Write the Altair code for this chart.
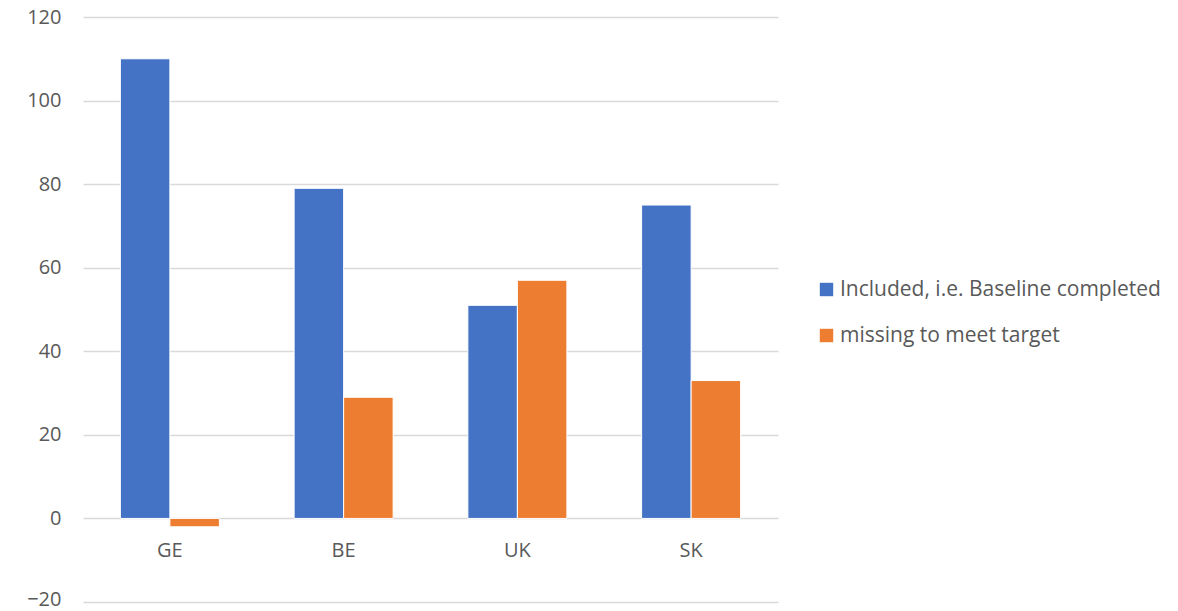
import altair as alt
import pandas as pd

countries = ["GE", "BE", "UK", "SK"]
series = ["Included, i.e. Baseline completed", "missing to meet target"]
included = [110, 79, 51, 75]
missing = [-2, 29, 57, 33]
y_ticks = [-20, 0, 20, 40, 60, 80, 100, 120]
colors = ["#4472C4", "#ED7D31"]

rows = []
for c, a, b in zip(countries, included, missing):
    rows.append({"country": c, "series": series[0], "value": a})
    rows.append({"country": c, "series": series[1], "value": b})
df = pd.DataFrame(rows)

W, H = 695, 585
FONT = "Open Sans"
TXT = "#595959"
FS = 20
LFS = 21

chart = (
    alt.Chart(df)
    .mark_bar(stroke="white", strokeWidth=1)
    .encode(
        x=alt.X(
            "country:N",
            sort=countries,
            scale=alt.Scale(paddingInner=0, paddingOuter=0),
            axis=alt.Axis(
                title=None,
                labelAngle=0,
                domain=False,
                ticks=False,
                grid=False,
                labelPadding=22,
                offset=-H * 20 / 140,
                labelFontSize=FS,
                labelColor=TXT,
                labelFont=FONT,
            ),
        ),
        xOffset=alt.XOffset(
            "series:N",
            sort=series,
            scale=alt.Scale(paddingInner=0, paddingOuter=0.755),
        ),
        y=alt.Y(
            "value:Q",
            scale=alt.Scale(domain=[-20, 120], nice=False, zero=False),
            axis=alt.Axis(
                title=None,
                values=y_ticks,
                domain=False,
                ticks=False,
                labelPadding=22,
                labelFontSize=FS,
                labelColor=TXT,
                labelFont=FONT,
                # keep the lowest label inside the canvas
                labelBaseline=alt.condition(
                    "datum.value == -20", alt.value("bottom"), alt.value("middle")
                ),
                labelOffset=alt.condition(
                    "datum.value == -20", alt.value(7), alt.value(0)
                ),
                gridColor="#D9D9D9",
                gridWidth=1.5,
            ),
        ),
        color=alt.Color(
            "series:N",
            sort=series,
            scale=alt.Scale(domain=series, range=colors),
            legend=alt.Legend(
                title=None,
                orient="none",
                legendX=W + 38,
                legendY=262,
                symbolType="square",
                symbolSize=180,
                symbolStrokeWidth=0,
                labelOffset=3,
                rowPadding=24,
                labelFontSize=LFS,
                labelColor=TXT,
                labelFont=FONT,
                labelLimit=400,
            ),
        ),
    )
    .properties(
        width=W,
        height=H,
        background="white",
        autosize=alt.AutoSizeParams(type="none"),
        padding={"left": 83, "top": 17, "right": 400, "bottom": 9},
    )
    .configure_view(strokeWidth=0, stroke="transparent")
)

chart.save("out.html", embed_options={"renderer": "svg", "actions": False})
